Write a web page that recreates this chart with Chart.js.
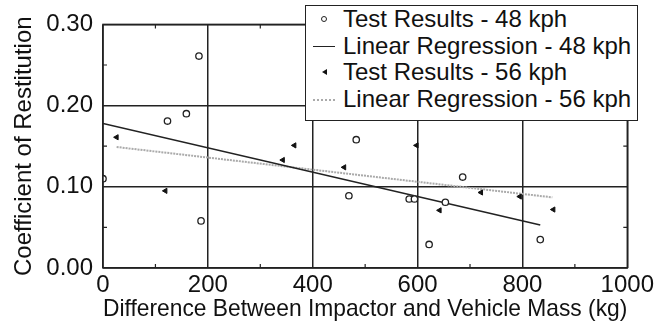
<!DOCTYPE html>
<html>
<head>
<meta charset="utf-8">
<script src="https://cdn.jsdelivr.net/npm/chart.js@4.4.1/dist/chart.umd.min.js"></script>
<style>
  body { margin: 0; background: #fff; }
  #wrap { position: relative; width: 657px; height: 324px; }
  #legend {
    position: absolute; left: 305px; top: 5px; width: 331px; height: 114px;
    border: 1.5px solid #222; background: #fff;
    font-family: "Liberation Sans", Arial, sans-serif; font-size: 24px; color: #111;
  }
  .row { position: absolute; left: 0; height: 26px; line-height: 26px; white-space: nowrap; }
  .row span.txt { position: absolute; left: 37px; top: 0; }
  .mk { position: absolute; }
</style>
</head>
<body>
<div id="wrap">
  <canvas id="graph" width="657" height="324"></canvas>
  <div id="legend"></div>
</div>
<script>
// Test results, 48 kph
const mass48 = [0, 123, 159, 183, 187, 469, 483, 584, 594, 622, 653, 686, 834];
const cor48 = [0.110, 0.181, 0.190, 0.261, 0.058, 0.089, 0.158, 0.085, 0.085, 0.029, 0.081, 0.112, 0.035];

// Test results, 56 kph
const mass56 = [26, 119, 343, 365, 460, 598, 642, 721, 795, 859];
const cor56 = [0.161, 0.095, 0.133, 0.151, 0.124, 0.151, 0.071, 0.093, 0.088, 0.072];

// Regression line end points
const regMass48 = [0, 834];
const regCor48 = [0.178, 0.053];
const regMass56 = [26, 857];
const regCor56 = [0.149, 0.087];

const xTicks = [0, 200, 400, 600, 800, 1000];
const yTicks = [0.00, 0.10, 0.20, 0.30];

const legendLabels = [
    "Test Results - 48 kph",
    "Linear Regression - 48 kph",
    "Test Results - 56 kph",
    "Linear Regression - 56 kph"
];

const toPoints = (xs, ys) => xs.map((x, i) => ({ x: x, y: ys[i] }));

// Frame and small inner ticks
const framePlugin = {
    id: 'frame',
    afterDatasetsDraw(chart) {
        const { ctx, chartArea: a, scales } = chart;
        ctx.save();
        ctx.strokeStyle = '#222';
        ctx.lineWidth = 1.5;
        ctx.strokeRect(a.left, a.top, a.right - a.left, a.bottom - a.top);
        ctx.lineWidth = 1.2;
        ctx.beginPath();
        [100, 300, 500, 700, 900].forEach(v => {
            const px = scales.x.getPixelForValue(v);
            ctx.moveTo(px, a.bottom); ctx.lineTo(px, a.bottom - 4);
            ctx.moveTo(px, a.top); ctx.lineTo(px, a.top + 4);
        });
        [0.05, 0.15, 0.25].forEach(v => {
            const py = scales.y.getPixelForValue(v);
            ctx.moveTo(a.left, py); ctx.lineTo(a.left + 4, py);
            ctx.moveTo(a.right, py); ctx.lineTo(a.right - 4, py);
        });
        ctx.stroke();
        ctx.restore();
    }
};

const font = { family: '"Liberation Sans", Arial, sans-serif', size: 24 };

const ctx = document.getElementById('graph').getContext('2d');
new Chart(ctx, {
    type: 'scatter',
    data: {
        datasets: [
            {
                label: legendLabels[0],
                data: toPoints(mass48, cor48),
                pointStyle: 'circle',
                pointRadius: 3.2,
                borderColor: '#222',
                backgroundColor: '#fff',
                borderWidth: 1.3
            },
            {
                label: legendLabels[1],
                type: 'line',
                data: toPoints(regMass48, regCor48),
                borderColor: '#222',
                borderWidth: 1.6,
                pointRadius: 0,
                fill: false
            },
            {
                label: legendLabels[2],
                data: toPoints(mass56, cor56),
                pointStyle: 'triangle',
                rotation: -90,
                pointRadius: 3,
                borderColor: '#111',
                backgroundColor: '#111',
                borderWidth: 1
            },
            {
                label: legendLabels[3],
                type: 'line',
                data: toPoints(regMass56, regCor56),
                borderColor: '#aaa',
                borderWidth: 2,
                borderDash: [2, 1],
                pointRadius: 0,
                fill: false
            }
        ]
    },
    options: {
        responsive: false,
        animation: false,
        layout: { padding: { top: 13, right: 27, left: 0, bottom: 0 } },
        plugins: { legend: { display: false }, tooltip: { enabled: false } },
        scales: {
            x: {
                type: 'linear',
                min: 0, max: 1000,
                afterBuildTicks: s => { s.ticks = xTicks.map(v => ({ value: v })); },
                afterFit: s => { s.height = 56; },
                ticks: { color: '#111', font: font, padding: 3, maxRotation: 0, callback: v => String(v) },
                grid: { color: '#222', lineWidth: 1.5, drawTicks: false },
                border: { display: false },
                title: { display: true, text: 'Difference Between Impactor and Vehicle Mass (kg)', color: '#111', font: font, padding: { top: 5, bottom: 0 } }
            },
            y: {
                type: 'linear',
                min: 0, max: 0.3,
                afterBuildTicks: s => { s.ticks = yTicks.map(v => ({ value: v })); },
                afterFit: s => { s.width = 103; },
                ticks: { color: '#111', font: font, padding: 10, callback: v => v.toFixed(2) },
                grid: { color: '#222', lineWidth: 1.5, drawTicks: false },
                border: { display: false },
                title: { display: true, text: 'Coefficient of Restitution', color: '#111', font: font, padding: { top: 10, bottom: 0 } }
            }
        }
    },
    plugins: [framePlugin]
});

// Legend box drawn in HTML
const legend = document.getElementById('legend');
legendLabels.forEach((label, i) => {
    const row = document.createElement('div');
    row.className = 'row';
    row.style.top = (i * 26.5) + 'px';
    row.style.width = '100%';
    const mk = document.createElement('div');
    mk.className = 'mk';
    if (i === 0) {
        Object.assign(mk.style, { left: '15px', top: '10px', width: '4px', height: '4px', border: '1.3px solid #222', borderRadius: '50%' });
    } else if (i === 2) {
        Object.assign(mk.style, { left: '16px', top: '10px', width: 0, height: 0, borderTop: '3px solid transparent', borderBottom: '3px solid transparent', borderRight: '5px solid #111' });
    } else if (i === 1) {
        Object.assign(mk.style, { left: '7px', top: '13px', width: '22px', borderTop: '1.6px solid #222' });
    } else {
        Object.assign(mk.style, { left: '7px', top: '13px', width: '22px', borderTop: '2px dotted #aaa' });
    }
    const txt = document.createElement('span');
    txt.className = 'txt';
    txt.textContent = label;
    row.appendChild(mk);
    row.appendChild(txt);
    legend.appendChild(row);
});
</script>
</body>
</html>
